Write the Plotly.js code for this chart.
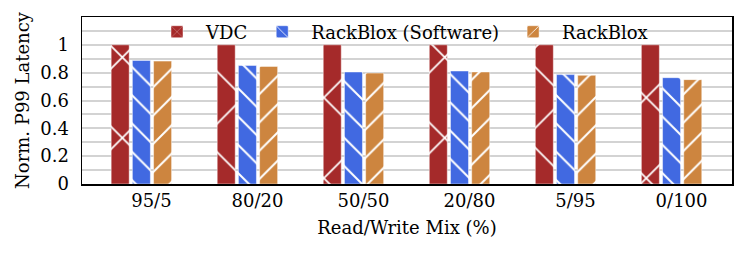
<!DOCTYPE html>
<html><head><meta charset="utf-8">
<script src="https://cdn.plot.ly/plotly-3.0.1.min.js"></script>
<style>html,body{margin:0;padding:0;background:#fff}#chart{width:748px;height:255px}</style>
</head><body><div id="chart"></div>
<script>
const categories = ['95/5','80/20','50/50','20/80','5/95','0/100'];
const vdc = [1, 1, 1, 1, 1, 1];
const rbSoftware = [0.888, 0.852, 0.805, 0.812, 0.786, 0.764];
const rackblox = [0.883, 0.845, 0.797, 0.805, 0.781, 0.750];
const seriesNames = ['VDC', 'RackBlox (Software)', 'RackBlox'];
const yTickVals = [0, 0.2, 0.4, 0.6, 0.8, 1];
const yTickText = ['0', '0.2', '0.4', '0.6', '0.8', '1'];

const FONT = 'DejaVu Serif, serif';
const FS = 18;
function mk(name, y, color, shape, size, solidity) {
  return {
    type: 'bar', name: name, x: categories, y: y,
    marker: {
      color: color,
      line: {color: 'rgba(255,255,255,0.6)', width: 0.8},
      pattern: {shape: shape, size: size, solidity: solidity, fgcolor: '#ffffff', bgcolor: color, fgopacity: 1, fillmode: 'replace'}
    },
    hoverinfo: 'skip'
  };
}
const data = [
  mk(seriesNames[0], vdc, '#a52a2a', 'x', 57, 0.06),
  mk(seriesNames[1], rbSoftware, '#4169e1', '\\', 20, 0.1),
  mk(seriesNames[2], rackblox, '#cd853f', '/', 20, 0.1)
];
const layout = {
  width: 748, height: 255,
  margin: {l: 82, r: 16, t: 17, b: 71},
  paper_bgcolor: '#fff', plot_bgcolor: '#fff',
  font: {family: FONT, size: FS, color: '#000'},
  barmode: 'group', bargap: 0.4, bargroupgap: 0.15,
  showlegend: true,
  legend: {orientation: 'h', x: 0.49, xanchor: 'center', y: 0.91, yanchor: 'middle',
           bgcolor: 'rgba(0,0,0,0)', font: {family: FONT, size: FS}, itemwidth: 48, traceorder: 'normal'},
  shapes: [{type: 'rect', xref: 'paper', yref: 'paper', x0: 0.089, x1: 0.917, y0: 0.86, y1: 0.975,
            fillcolor: '#ffffff', line: {width: 0}, layer: 'between'}],
  xaxis: {
    type: 'category', range: [-0.56, 5.57],
    showline: true, linecolor: '#000', linewidth: 1.5, mirror: true,
    ticks: '', showgrid: false, zeroline: false,
    ticklabelshift: 10, ticklabelstandoff: 0,
    tickfont: {family: FONT, size: FS},
    title: {text: 'Read/Write Mix (%)', font: {family: FONT, size: FS}, standoff: 11}
  },
  yaxis: {
    range: [0, 1.2], tickvals: yTickVals, ticktext: yTickText,
    showline: true, linecolor: '#000', linewidth: 1.5, mirror: true,
    ticks: '', zeroline: false,
    showgrid: true, gridcolor: '#d3d3d3', gridwidth: 2,
    minor: {dtick: 0.1, tick0: 0, showgrid: true, gridcolor: '#d3d3d3', gridwidth: 2, ticks: ''},
    ticklabelstandoff: 8,
    tickfont: {family: FONT, size: FS},
    title: {text: 'Norm. P99 Latency', font: {family: FONT, size: FS}, standoff: 6}
  }
};
Plotly.newPlot('chart', data, layout, {displayModeBar: false, staticPlot: true});
</script>
</body></html>
